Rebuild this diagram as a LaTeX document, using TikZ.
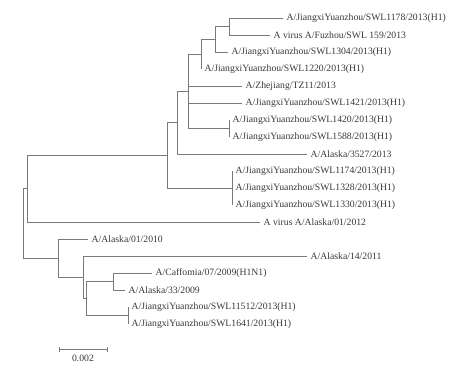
\documentclass[tikz,border=0pt]{standalone}
\usepackage{fontspec}
\setmainfont{Liberation Serif}
\begin{document}
\begin{tikzpicture}[x=1pt,y=-1pt,
  br/.style={draw=black!52,line width=0.9pt},
  leaf/.style={anchor=west,inner xsep=3.5pt,inner ysep=0pt,text=black!78,font=\fontsize{9.7}{11}\selectfont}]
\useasboundingbox (0,0) rectangle (449,368);
% internal nodes
\coordinate (A) at (229,26.5);
\coordinate (B) at (215,39.25);
\coordinate (C) at (201,54.1);
\coordinate (E) at (229,128.5);
\coordinate (D) at (188,91.3);
\coordinate (G) at (177,122.7);
\coordinate (T) at (232,188);
\coordinate (H) at (167,155.3);
\coordinate (F) at (27,188.7);
\coordinate (M) at (128,315.5);
\coordinate (L) at (113,281.5);
\coordinate (K) at (86,298.5);
\coordinate (J) at (83,277.25);
\coordinate (I) at (58,258.1);
\coordinate (R) at (23,223.4);
% leaves
\node[leaf] (l1) at (283,18) {A/JiangxiYuanzhou/SWL1178/2013(H1)};
\node[leaf] (l2) at (270,35) {A virus A/Fuzhou/SWL 159/2013};
\node[leaf] (l3) at (228,52) {A/JiangxiYuanzhou/SWL1304/2013(H1)};
\node[leaf] (l4) at (201,69) {A/JiangxiYuanzhou/SWL1220/2013(H1)};
\node[leaf] (l5) at (242,86) {A/Zhejiang/TZ11/2013};
\node[leaf] (l6) at (242,103) {A/JiangxiYuanzhou/SWL1421/2013(H1)};
\node[leaf] (l7) at (229,120) {A/JiangxiYuanzhou/SWL1420/2013(H1)};
\node[leaf] (l8) at (229,137) {A/JiangxiYuanzhou/SWL1588/2013(H1)};
\node[leaf] (l9) at (307,154) {A/Alaska/3527/2013};
\node[leaf] (l10) at (232,171) {A/JiangxiYuanzhou/SWL1174/2013(H1)};
\node[leaf] (l11) at (232,188) {A/JiangxiYuanzhou/SWL1328/2013(H1)};
\node[leaf] (l12) at (232,205) {A/JiangxiYuanzhou/SWL1330/2013(H1)};
\node[leaf] (l13) at (260,222) {A virus A/Alaska/01/2012};
\node[leaf] (l14) at (88,239) {A/Alaska/01/2010};
\node[leaf] (l15) at (307,256) {A/Alaska/14/2011};
\node[leaf] (l16) at (152,273) {A/Caffomia/07/2009(H1N1)};
\node[leaf] (l17) at (125,290) {A/Alaska/33/2009};
\node[leaf] (l18) at (128,307) {A/JiangxiYuanzhou/SWL11512/2013(H1)};
\node[leaf] (l19) at (128,324) {A/JiangxiYuanzhou/SWL1641/2013(H1)};
% branches
\draw[br] (A) |- (l1.west);
\draw[br] (A) |- (l2.west);
\draw[br] (B) |- (A);
\draw[br] (B) |- (l3.west);
\draw[br] (C) |- (B);
\draw[br] (C) |- (l4.west);
\draw[br] (E) |- (l7.west);
\draw[br] (E) |- (l8.west);
\draw[br] (D) |- (C);
\draw[br] (D) |- (l5.west);
\draw[br] (D) |- (l6.west);
\draw[br] (D) |- (E);
\draw[br] (G) |- (D);
\draw[br] (G) |- (l9.west);
\draw[br] (T) |- (l10.west);
\draw[br] (T) |- (l11.west);
\draw[br] (T) |- (l12.west);
\draw[br] (H) |- (G);
\draw[br] (H) |- (T);
\draw[br] (F) |- (H);
\draw[br] (F) |- (l13.west);
\draw[br] (M) |- (l18.west);
\draw[br] (M) |- (l19.west);
\draw[br] (L) |- (l16.west);
\draw[br] (L) |- (l17.west);
\draw[br] (K) |- (L);
\draw[br] (K) |- (M);
\draw[br] (J) |- (l15.west);
\draw[br] (J) |- (K);
\draw[br] (I) |- (l14.west);
\draw[br] (I) |- (J);
\draw[br] (R) |- (F);
\draw[br] (R) |- (I);
% scale bar
\coordinate (s1) at (59,349);
\coordinate (s2) at (107,349);
\draw[br] (s1) -- (s2);
\draw[br] ([yshift=-2.5]s1) -- ([yshift=2.5]s1);
\draw[br] ([yshift=-2.5]s2) -- ([yshift=2.5]s2);
\node[text=black!78,font=\fontsize{9.7}{11}\selectfont,inner sep=0pt] (sl) at (83,358.5) {0.002};
\end{tikzpicture}
\end{document}
